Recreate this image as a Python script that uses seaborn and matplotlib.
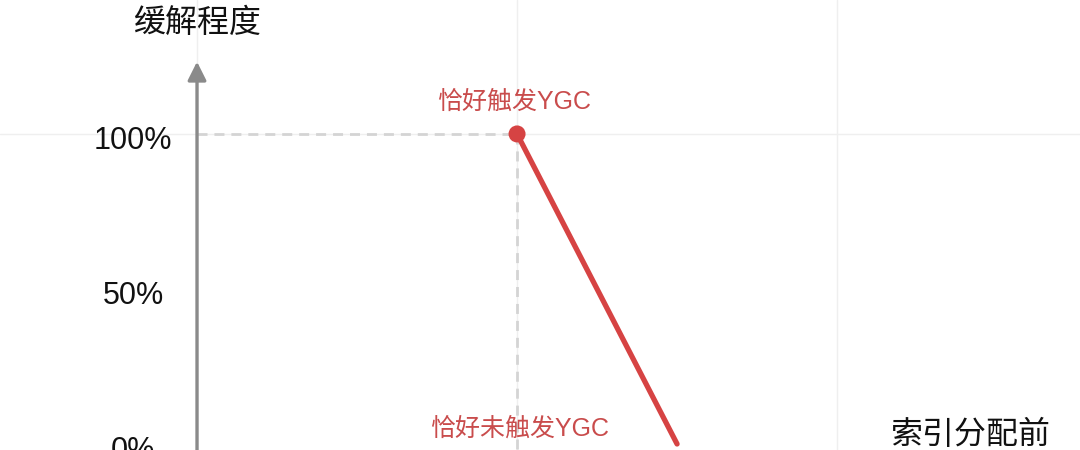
import matplotlib
matplotlib.use("Agg")
import matplotlib.pyplot as plt
import matplotlib.transforms as mtransforms
import seaborn as sns
import pandas as pd

# data
curve_x = [1.0, 1.5]
curve_y = [100, 0]
ytick_vals = [0, 50, 100]
ytick_labels = ["0%", "50%", "100%"]
grid_x = [0, 1, 2]
grid_y = [100]
y_label = "缓解程度"
x_label = "索引分配前"
hit_label = "恰好触发YGC"
miss_label = "恰好未触发YGC"

RED = "#d64343"
RED_TEXT = "#c94c4c"
GREY = "#8a8a8a"

sns.set_theme(style="white")
plt.rcParams['font.family'] = ['Liberation Sans', 'Noto Sans CJK SC']

fig = plt.figure(figsize=(10.8, 4.5), dpi=100)
ax = fig.add_axes([0, 0, 1, 1])
ax.set_xlim(-0.6156, 2.759)
ax.set_ylim(-1.94, 143.2)

# faint background grid
for gx in grid_x:
    ax.axvline(gx, color="#efefef", lw=1, zorder=0)
for gy in grid_y:
    ax.axhline(gy, color="#efefef", lw=1, zorder=0)

# guide lines from the peak point
ax.plot([0, curve_x[0]], [curve_y[0], curve_y[0]], color="#d4d4d4", lw=2,
        ls=(0, (3.6, 2.5)), zorder=1)
ax.plot([curve_x[0], curve_x[0]], [curve_y[0], -5], color="#d4d4d4", lw=2,
        ls=(0, (3.6, 2.5)), zorder=1)

df = pd.DataFrame({"x": curve_x, "y": curve_y})
sns.lineplot(data=df, x="x", y="y", ax=ax, color=RED, lw=3.8, zorder=3)
sns.scatterplot(x=curve_x[:1], y=curve_y[:1], ax=ax, color=RED, s=150,
                edgecolor="none", zorder=4)

# y axis with arrow
ax.annotate("", xy=(0, 123.3), xytext=(0, -6),
            arrowprops=dict(arrowstyle="-|>", color=GREY, lw=2.4,
                            mutation_scale=28, shrinkA=0, shrinkB=0),
            zorder=2)

for s in ax.spines.values():
    s.set_visible(False)
ax.spines['left'].set_position(('data', 0))
ax.set_xticks([])
ax.set_yticks(ytick_vals)
ax.set_yticklabels(ytick_labels, fontsize=22, color="#111111")
ax.tick_params(axis="y", length=0, pad=46)
shift = mtransforms.ScaledTranslation(0, -4 / 100, fig.dpi_scale_trans)
for t in ax.get_yticklabels():
    t.set_horizontalalignment("center")
    t.set_transform(t.get_transform() + shift)
ax.set_xlabel("")
ax.set_ylabel("")

ax.text(0, 135.5, y_label, fontsize=23, ha="center", va="center", color="#111111")
ax.text(2.414, 2.6, x_label, fontsize=23, ha="center", va="center", color="#111111")

ax.annotate(hit_label, xy=(curve_x[0], curve_y[0]), xytext=(-2, 23),
            textcoords="offset points", ha="center", va="center",
            fontsize=18, color=RED_TEXT)
ax.annotate(miss_label, xy=(curve_x[0], 0), xytext=(2, 11),
            textcoords="offset points", ha="center", va="center",
            fontsize=18, color=RED_TEXT)

fig.savefig("out.png", dpi=100)
